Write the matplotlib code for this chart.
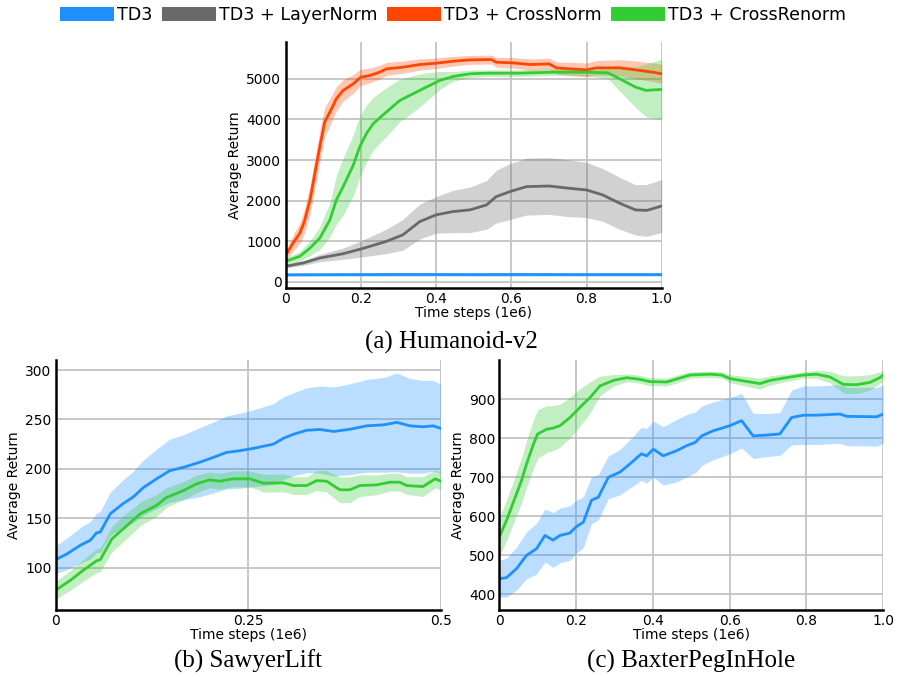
import numpy as np
import matplotlib
matplotlib.use("Agg")
import matplotlib.pyplot as plt
from matplotlib.patches import Patch

# ---------------- data ----------------
labels = ["TD3", "TD3 + LayerNorm", "TD3 + CrossNorm", "TD3 + CrossRenorm"]
colors = ["#1E90FF", "#696969", "#FF4500", "#32CD32"]

# (a) Humanoid-v2
hum_td3_x = [0.0, 0.1, 0.2, 0.3, 0.4, 0.5, 0.6, 0.7, 0.8, 0.9, 1.0]
hum_td3_y = [175, 178, 180, 182, 182, 180, 182, 181, 180, 181, 180]
hum_td3_s = [40, 40, 40, 45, 40, 40, 45, 40, 40, 40, 40]

hum_ln_x = [0.0, 0.047, 0.091, 0.153, 0.2, 0.268, 0.312, 0.357, 0.4, 0.445, 0.49, 0.534, 0.56,
            0.596, 0.64, 0.7, 0.755, 0.8, 0.843, 0.888, 0.93, 0.96, 1.0]
hum_ln_y = [384, 466, 588, 694, 809, 997, 1160, 1487, 1650, 1732, 1773, 1895, 2100,
            2222, 2345, 2361, 2304, 2263, 2141, 1936, 1773, 1760, 1871]
hum_ln_s = [40, 60, 90, 140, 200, 300, 380, 430, 450, 520, 560, 600, 650,
            690, 700, 700, 700, 680, 650, 640, 620, 640, 650]

hum_cn_x = [0.0, 0.02, 0.038, 0.05, 0.065, 0.078, 0.091, 0.104, 0.118, 0.135, 0.153, 0.18, 0.2,
            0.224, 0.25, 0.268, 0.312, 0.357, 0.4, 0.445, 0.49, 0.547, 0.56, 0.604, 0.649,
            0.7, 0.72, 0.755, 0.8, 0.826, 0.888, 0.93, 0.976, 1.0]
hum_cn_y = [645, 956, 1200, 1487, 2018, 2671, 3325, 3938, 4183, 4510, 4714, 4877, 5040,
            5082, 5163, 5245, 5286, 5351, 5384, 5433, 5466, 5474, 5408, 5392, 5351,
            5368, 5270, 5245, 5220, 5270, 5270, 5220, 5163, 5123]
hum_cn_s = [120, 200, 250, 300, 350, 380, 380, 360, 330, 300, 260, 230, 200,
            180, 170, 160, 150, 140, 130, 120, 110, 110, 120, 130, 140,
            140, 150, 160, 170, 180, 200, 220, 230, 240]

hum_cr_x = [0.0, 0.038, 0.065, 0.091, 0.118, 0.135, 0.153, 0.18, 0.197, 0.215, 0.233, 0.268,
            0.304, 0.339, 0.374, 0.41, 0.445, 0.49, 0.534, 0.622, 0.71, 0.8, 0.857, 0.888,
            0.93, 0.958, 1.0]
hum_cr_y = [507, 629, 833, 1078, 1528, 2018, 2345, 2876, 3325, 3652, 3897, 4183,
            4469, 4632, 4796, 4959, 5057, 5123, 5139, 5139, 5163, 5163, 5147, 5000,
            4796, 4714, 4739]
hum_cr_s = [80, 120, 180, 280, 420, 600, 700, 750, 750, 700, 650, 600,
            520, 450, 350, 220, 120, 90, 80, 80, 80, 90, 150, 300,
            500, 650, 750]

# (b) SawyerLift
saw_td3_x = [0.0, 0.014, 0.032, 0.045, 0.053, 0.058, 0.071, 0.088, 0.1, 0.114, 0.131, 0.148,
             0.166, 0.187, 0.205, 0.222, 0.239, 0.257, 0.283, 0.296, 0.309, 0.326, 0.343,
             0.361, 0.382, 0.404, 0.426, 0.443, 0.46, 0.477, 0.49, 0.5]
saw_td3_y = [108, 113.5, 122.5, 127.6, 135, 136, 154.5, 165, 171, 181, 189.8, 198,
             201.5, 206.6, 211.6, 216.6, 218.3, 220.7, 225, 231, 235, 239, 239.8,
             237.8, 240, 243.5, 244.5, 247, 243.5, 242.5, 243.5, 241]
saw_td3_s = [14, 16, 18, 19, 20, 21, 22, 24, 26, 28, 30, 32,
             33, 35, 36, 37, 38, 39, 41, 42, 42, 43, 44,
             45, 46, 47, 48, 50, 48, 47, 46, 45]

saw_cr_x = [0.0, 0.019, 0.036, 0.053, 0.058, 0.073, 0.088, 0.11, 0.131, 0.144, 0.166, 0.183,
            0.2, 0.213, 0.23, 0.252, 0.27, 0.296, 0.309, 0.326, 0.339, 0.352, 0.369, 0.382,
            0.395, 0.417, 0.434, 0.447, 0.456, 0.477, 0.493, 0.5]
saw_cr_y = [77, 87, 97.3, 106.7, 108, 129, 139.3, 154.5, 162.9, 171, 178, 184.7,
            188.8, 187.4, 189.8, 189.8, 185.4, 185.7, 183, 183, 188, 187.4, 178.7, 178.7,
            183, 183.7, 186.4, 186.4, 183, 182, 189.8, 187.4]
saw_cr_s = [9, 10, 11, 12, 12, 13, 13, 12, 11, 10, 9, 9,
            8, 8, 8, 8, 9, 9, 9, 9, 10, 11, 13, 13,
            11, 10, 9, 9, 9, 10, 9, 9]

# (c) BaxterPegInHole
bax_td3_x = [0.0, 0.019, 0.045, 0.071, 0.097, 0.119, 0.14, 0.158, 0.184, 0.2, 0.219, 0.24,
             0.258, 0.284, 0.314, 0.34, 0.37, 0.384, 0.401, 0.427, 0.462, 0.488, 0.51, 0.527,
             0.557, 0.6, 0.631, 0.661, 0.696, 0.731, 0.761, 0.792, 0.826, 0.887, 0.905, 0.983, 1.0]
bax_td3_y = [440, 443, 466, 500, 517, 551, 539, 551, 557, 573, 585, 641,
             649, 700, 713, 734, 760, 755, 772, 755, 768, 781, 789, 806,
             819, 832, 845, 806, 808, 811, 853, 859, 859, 862, 856, 855, 862]
bax_td3_s = [47, 50, 55, 60, 65, 68, 70, 70, 70, 68, 65, 60,
             58, 55, 58, 62, 68, 70, 72, 75, 80, 80, 78, 76,
             74, 72, 70, 58, 55, 55, 70, 75, 75, 75, 75, 75, 75]

bax_cr_x = [0.0, 0.019, 0.045, 0.058, 0.071, 0.089, 0.1, 0.123, 0.14, 0.158, 0.184, 0.21,
            0.236, 0.262, 0.297, 0.332, 0.366, 0.392, 0.436, 0.47, 0.497, 0.549, 0.579,
            0.6, 0.635, 0.679, 0.705, 0.74, 0.792, 0.826, 0.861, 0.896, 0.93, 0.965,
            0.991, 1.0]
bax_cr_y = [547, 590, 658, 692, 734, 785, 811, 823, 826, 832, 853, 879,
            904, 934, 948, 955, 951, 945, 944, 954, 962, 964, 962,
            953, 947, 940, 948, 954, 962, 964, 957, 938, 937, 943,
            955, 962]
bax_cr_s = [50, 52, 55, 58, 60, 62, 62, 60, 58, 55, 52, 48,
            40, 25, 15, 10, 10, 10, 10, 10, 8, 8, 8,
            10, 12, 14, 12, 10, 8, 10, 15, 22, 23, 20,
            15, 12]

# ---------------- style ----------------
plt.rcParams["font.family"] = ["DejaVu Sans"]
LW = 2.0
GRID = "#c4c4c4"

fig = plt.figure(figsize=(8.98, 6.77), dpi=100)

def style(ax):
    ax.grid(True, color=GRID, linewidth=1.3)
    ax.set_axisbelow(True)
    for s in ["top", "right"]:
        ax.spines[s].set_visible(False)
    for s in ["left", "bottom"]:
        ax.spines[s].set_linewidth(1.8)
        ax.spines[s].set_color("black")
    ax.tick_params(length=0, labelsize=10, pad=3)
    ax.set_xlabel("Time steps (1e6)", fontsize=10, labelpad=0)
    ax.set_ylabel("Average Return", fontsize=10, labelpad=3)

def curve(ax, x, y, s, c):
    x = np.asarray(x); y = np.asarray(y, float); s = np.asarray(s, float)
    ax.fill_between(x, y - s, y + s, color=c, alpha=0.3, linewidth=0)
    ax.plot(x, y, color=c, linewidth=LW)

# (a)
ax1 = fig.add_axes([0.318, 0.5746, 0.419, 0.363])
curve(ax1, hum_td3_x, hum_td3_y, hum_td3_s, colors[0])
curve(ax1, hum_ln_x, hum_ln_y, hum_ln_s, colors[1])
curve(ax1, hum_cn_x, hum_cn_y, hum_cn_s, colors[2])
curve(ax1, hum_cr_x, hum_cr_y, hum_cr_s, colors[3])
ax1.set_xlim(0, 1.0)
ax1.set_ylim(-150, 5900)
ax1.set_xticks([0, 0.2, 0.4, 0.6, 0.8, 1.0])
ax1.set_xticklabels(["0", "0.2", "0.4", "0.6", "0.8", "1.0"])
ax1.set_yticks([0, 1000, 2000, 3000, 4000, 5000])
style(ax1)

# (b)
ax2 = fig.add_axes([0.062, 0.099, 0.4287, 0.369])
curve(ax2, saw_td3_x, saw_td3_y, saw_td3_s, colors[0])
curve(ax2, saw_cr_x, saw_cr_y, saw_cr_s, colors[3])
ax2.set_xlim(0, 0.5)
ax2.set_ylim(57, 310)
ax2.set_xticks([0, 0.25, 0.5])
ax2.set_xticklabels(["0", "0.25", "0.5"])
ax2.set_yticks([100, 150, 200, 250, 300])
style(ax2)

# (c)
ax3 = fig.add_axes([0.556, 0.099, 0.4276, 0.369])
curve(ax3, bax_td3_x, bax_td3_y, bax_td3_s, colors[0])
curve(ax3, bax_cr_x, bax_cr_y, bax_cr_s, colors[3])
ax3.set_xlim(0, 1.0)
ax3.set_ylim(360, 1000)
ax3.set_xticks([0, 0.2, 0.4, 0.6, 0.8, 1.0])
ax3.set_xticklabels(["0", "0.2", "0.4", "0.6", "0.8", "1.0"])
ax3.set_yticks([400, 500, 600, 700, 800, 900])
style(ax3)

# captions
serif = ["Liberation Serif", "DejaVu Serif"]
fig.text(451 / 898, 1 - 342 / 677, "(a) Humanoid-v2", family=serif, fontsize=18,
         ha="center", va="center")
fig.text(248 / 898, 1 - 661 / 677, "(b) SawyerLift", family=serif, fontsize=18,
         ha="center", va="center")
fig.text(691 / 898, 1 - 661 / 677, "(c) BaxterPegInHole", family=serif, fontsize=18,
         ha="center", va="center")

# legend
handles = [Patch(facecolor=c, edgecolor="none") for c in colors]
fig.legend(handles, labels, loc="center", bbox_to_anchor=(453 / 898, 1 - 15 / 677),
           ncol=4, frameon=False, fontsize=12.6, handlelength=3.1, handleheight=0.9,
           handletextpad=0.2, columnspacing=0.5, borderpad=0)

fig.savefig("out.png", dpi=100)
